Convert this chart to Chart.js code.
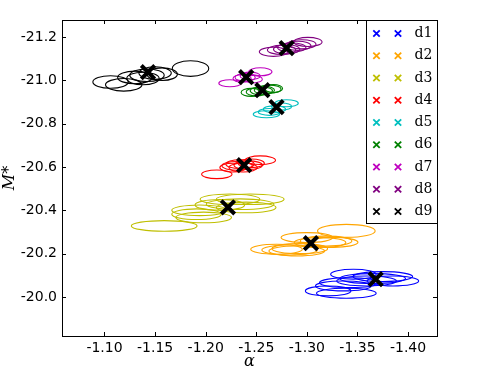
<!DOCTYPE html>
<html>
<head>
<meta charset="utf-8">
<script src="https://cdn.jsdelivr.net/npm/chart.js"></script>
<style>
  html, body { margin: 0; padding: 0; background: #fff; }
  #chart { display: block; }
</style>
</head>
<body>
<canvas id="chart" width="480" height="384"></canvas>
<script>
// Samples d1..d9
const groups = ['d1', 'd2', 'd3', 'd4', 'd5', 'd6', 'd7', 'd8', 'd9'];

// Best-fit (alpha, M*) for each sample (black crosses)
const centreAlpha = [-1.368, -1.304, -1.222, -1.238, -1.270, -1.256, -1.240, -1.280, -1.143];
const centreM = [-20.082, -20.248, -20.414, -20.608, -20.876, -20.954, -21.014, -21.148, -21.037];

// Error ellipses, one inner list per sample: centre alpha, centre M*, full width in alpha, full height in M*
const ellAlpha = [
  [-1.321, -1.339, -1.346, -1.342, -1.365, -1.385, -1.375, -1.359, -1.336],
  [-1.339, -1.270, -1.283, -1.293, -1.313, -1.319, -1.300, -1.290, -1.326],
  [-1.159, -1.191, -1.198, -1.194, -1.224, -1.244, -1.234, -1.240, -1.214],
  [-1.211, -1.254, -1.231, -1.234, -1.237, -1.242, -1.227, -1.245],
  [-1.260, -1.280, -1.268, -1.263, -1.275],
  [-1.245, -1.263, -1.255, -1.258, -1.250, -1.267],
  [-1.224, -1.254, -1.239, -1.244, -1.236, -1.247],
  [-1.267, -1.275, -1.285, -1.295, -1.301, -1.291, -1.280],
  [-1.106, -1.119, -1.185, -1.130, -1.142, -1.150, -1.157, -1.138]
];
const ellM = [
  [-20.028, -20.017, -20.105, -20.066, -20.085, -20.074, -20.094, -20.074, -20.051],
  [-20.305, -20.220, -20.217, -20.223, -20.251, -20.258, -20.274, -20.212, -20.252],
  [-20.328, -20.382, -20.367, -20.400, -20.451, -20.451, -20.428, -20.413, -20.425],
  [-20.566, -20.631, -20.605, -20.613, -20.597, -20.608, -20.597, -20.617],
  [-20.843, -20.894, -20.866, -20.854, -20.879],
  [-20.944, -20.959, -20.951, -20.954, -20.946, -20.962],
  [-20.986, -21.039, -21.013, -21.020, -21.008, -21.005],
  [-21.131, -21.140, -21.151, -21.166, -21.177, -21.159, -21.143],
  [-20.992, -20.979, -21.054, -21.013, -21.023, -21.033, -21.028, -21.008]
];
const ellWidth = [
  [0.045, 0.059, 0.045, 0.059, 0.065, 0.051, 0.059, 0.059, 0.055],
  [0.057, 0.051, 0.055, 0.055, 0.051, 0.051, 0.051, 0.055, 0.049],
  [0.065, 0.049, 0.055, 0.055, 0.059, 0.067, 0.067, 0.059, 0.049],
  [0.030, 0.030, 0.030, 0.028, 0.028, 0.028, 0.026, 0.026],
  [0.026, 0.023, 0.022, 0.022, 0.020],
  [0.020, 0.023, 0.022, 0.020, 0.020, 0.018],
  [0.022, 0.023, 0.020, 0.020, 0.018, 0.018],
  [0.028, 0.028, 0.028, 0.028, 0.028, 0.026, 0.026],
  [0.035, 0.036, 0.036, 0.034, 0.034, 0.032, 0.030, 0.032]
];
const ellHeight = [
  [0.046, 0.046, 0.046, 0.046, 0.046, 0.046, 0.046, 0.046, 0.046],
  [0.060, 0.046, 0.046, 0.046, 0.046, 0.046, 0.046, 0.046, 0.046],
  [0.049, 0.049, 0.049, 0.049, 0.049, 0.049, 0.049, 0.049, 0.049],
  [0.040, 0.040, 0.040, 0.040, 0.040, 0.040, 0.040, 0.040],
  [0.032, 0.032, 0.032, 0.032, 0.032],
  [0.037, 0.037, 0.037, 0.037, 0.037, 0.037],
  [0.032, 0.037, 0.035, 0.035, 0.035, 0.035],
  [0.042, 0.042, 0.042, 0.042, 0.042, 0.042, 0.042],
  [0.058, 0.058, 0.072, 0.058, 0.058, 0.058, 0.058, 0.058]
];

// matplotlib-ish colours per sample
const groupColors = ['#0000ff', '#ffa500', '#bfbf00', '#ff0000', '#00bfbf', '#008000', '#bf00bf', '#800080', '#000000'];

// Draw error ellipses below the crosses
const ellipsePlugin = {
  id: 'ellipses',
  beforeDatasetsDraw(chart) {
    const { ctx, chartArea, scales: { x, y } } = chart;
    ctx.save();
    ctx.beginPath();
    ctx.rect(chartArea.left, chartArea.top, chartArea.right - chartArea.left, chartArea.bottom - chartArea.top);
    ctx.clip();
    ctx.lineWidth = 1.1;
    ellAlpha.forEach((list, g) => {
      ctx.strokeStyle = groupColors[g];
      list.forEach((a, k) => {
        const m = ellM[g][k];
        const cx = x.getPixelForValue(a);
        const cy = y.getPixelForValue(m);
        const rx = Math.abs(x.getPixelForValue(a + ellWidth[g][k] / 2) - cx);
        const ry = Math.abs(y.getPixelForValue(m + ellHeight[g][k] / 2) - cy);
        ctx.beginPath();
        ctx.ellipse(cx, cy, rx, ry, 0, 0, Math.PI * 2);
        ctx.stroke();
      });
    });
    ctx.restore();
  }
};

// Frame, inward ticks on all four sides, and the boxed legend
const framePlugin = {
  id: 'frame',
  afterDraw(chart) {
    const { ctx, chartArea: area, scales: { x, y } } = chart;
    ctx.save();
    ctx.strokeStyle = '#000';
    ctx.lineWidth = 1;
    const tl = 4;
    x.ticks.forEach((t) => {
      const px = Math.round(x.getPixelForValue(t.value)) + 0.5;
      ctx.beginPath();
      ctx.moveTo(px, area.bottom); ctx.lineTo(px, area.bottom - tl);
      ctx.moveTo(px, area.top); ctx.lineTo(px, area.top + tl);
      ctx.stroke();
    });
    y.ticks.forEach((t) => {
      const py = Math.round(y.getPixelForValue(t.value)) + 0.5;
      ctx.beginPath();
      ctx.moveTo(area.left, py); ctx.lineTo(area.left + tl, py);
      ctx.moveTo(area.right, py); ctx.lineTo(area.right - tl, py);
      ctx.stroke();
    });
    ctx.strokeRect(Math.round(area.left) + 0.5, Math.round(area.top) + 0.5,
      Math.round(area.right - area.left), Math.round(area.bottom - area.top));

    // legend
    const boxW = 71, boxH = 203;
    const bx = Math.round(area.right - boxW) + 0.5;
    const by = Math.round(area.top) + 0.5;
    ctx.fillStyle = '#fff';
    ctx.fillRect(bx, by, boxW, boxH);
    ctx.strokeRect(bx, by, boxW, boxH);
    ctx.font = '14px "DejaVu Serif"';
    ctx.textBaseline = 'middle';
    ctx.textAlign = 'left';
    groups.forEach((name, i) => {
      const ry = by + 13 + i * 22.25;
      ctx.strokeStyle = groupColors[i];
      ctx.lineWidth = 1.8;
      [bx + 10, bx + 31.5].forEach((mx) => {
        const s = 3.2;
        ctx.beginPath();
        ctx.moveTo(mx - s, ry - s); ctx.lineTo(mx + s, ry + s);
        ctx.moveTo(mx - s, ry + s); ctx.lineTo(mx + s, ry - s);
        ctx.stroke();
      });
      ctx.fillStyle = '#000';
      ctx.fillText(name, bx + 48, ry);
    });
    ctx.restore();
  }
};

new Chart(document.getElementById('chart'), {
  type: 'scatter',
  data: {
    datasets: [{
      label: 'best fit',
      data: centreAlpha.map((a, i) => ({ x: a, y: centreM[i] })),
      pointStyle: 'crossRot',
      pointRadius: 9.5,
      pointHoverRadius: 9.5,
      borderWidth: 4,
      borderColor: '#000',
      backgroundColor: '#000'
    }]
  },
  options: {
    responsive: false,
    devicePixelRatio: 1,
    animation: false,
    layout: { padding: { left: 0, top: 20, right: 43, bottom: 0 } },
    plugins: { legend: { display: false }, tooltip: { enabled: false } },
    scales: {
      x: {
        type: 'linear',
        reverse: true,
        min: -1.4286,
        max: -1.058,
        grid: { display: false, drawTicks: false },
        border: { display: false },
        ticks: {
          stepSize: 0.05,
          includeBounds: false,
          padding: 4,
          color: '#000',
          font: { family: '"DejaVu Sans"', size: 14 },
          callback: (v) => v.toFixed(2)
        },
        title: {
          display: true,
          text: 'α',
          color: '#000',
          padding: { top: 0, bottom: 13 },
          font: { family: '"DejaVu Serif"', size: 16, style: 'italic' }
        },
        afterFit: (s) => { s.height = 48; }
      },
      y: {
        type: 'linear',
        reverse: true,
        min: -21.278,
        max: -19.82,
        grid: { display: false, drawTicks: false },
        border: { display: false },
        ticks: {
          stepSize: 0.2,
          includeBounds: false,
          padding: 5,
          color: '#000',
          font: { family: '"DejaVu Sans"', size: 14 },
          callback: (v) => v.toFixed(1)
        },
        title: {
          display: true,
          text: 'M*',
          color: '#000',
          padding: { top: 0, bottom: 0 },
          font: { family: '"DejaVu Serif"', size: 16, style: 'italic' }
        },
        afterFit: (s) => { s.width = 62; }
      }
    }
  },
  plugins: [ellipsePlugin, framePlugin]
});
</script>
</body>
</html>
